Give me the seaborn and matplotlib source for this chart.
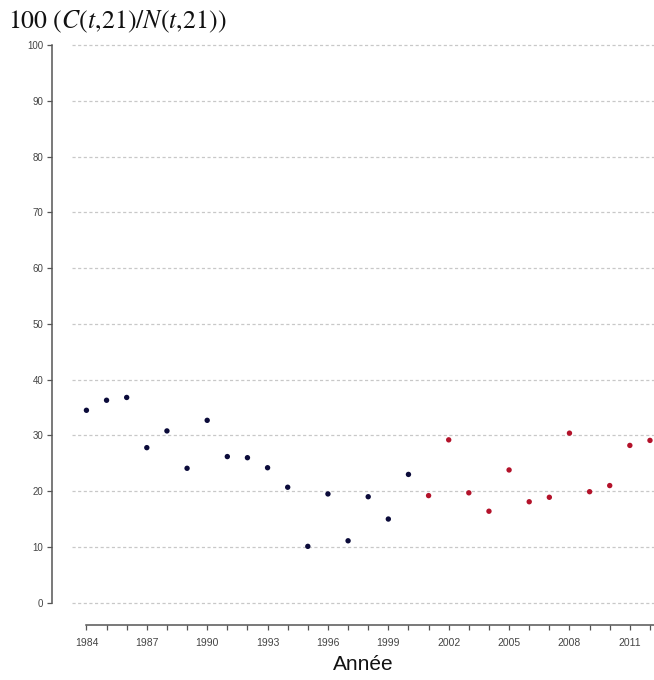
import pandas as pd
import matplotlib
matplotlib.use("Agg")
import matplotlib.pyplot as plt
import seaborn as sns

# données
annees = list(range(1984, 2013))
valeurs = [34.5, 36.3, 36.8, 27.8, 30.8, 24.1, 32.7, 26.2, 26.0, 24.2,
           20.7, 10.1, 19.5, 11.1, 19.0, 15.0, 23.0, 19.2, 29.2, 19.7,
           16.4, 23.8, 18.1, 18.9, 30.4, 19.9, 21.0, 28.2, 29.1]
periode = ["avant"] * 17 + ["apres"] * 12
couleurs = {"avant": "#0b0b3a", "apres": "#b3122a"}

df = pd.DataFrame({"annee": annees, "valeur": valeurs, "periode": periode})

sns.set_theme(style="white")
plt.rcParams["font.family"] = ["Liberation Sans", "DejaVu Sans"]
plt.rcParams["mathtext.fontset"] = "stix"

fig = plt.figure(figsize=(6.54, 6.8), dpi=100)
ax = fig.add_axes([0.11, 0.0809, 0.89, 0.8857])

# lignes horizontales pointillées
for y in range(0, 101, 10):
    ax.axhline(y, color="#c8c8c8", lw=0.9, ls=(0, (2.5, 2)), zorder=0)

sns.scatterplot(data=df, x="annee", y="valeur", hue="periode",
                palette=couleurs, s=15, edgecolor="none", legend=False,
                ax=ax, clip_on=False)

ax.set_xlim(1983.28, 2012.2)
ax.set_ylim(-4, 104)

ax.spines["top"].set_visible(False)
ax.spines["right"].set_visible(False)
ax.spines["left"].set_position(("outward", 14))
ax.spines["left"].set_bounds(0, 100)
ax.spines["bottom"].set_bounds(1984, 2013)
for s in ("left", "bottom"):
    ax.spines[s].set_color("#555555")
    ax.spines[s].set_linewidth(1.1)

ax.set_yticks(range(0, 101, 10))
ax.set_xticks(range(1984, 2013, 3))
ax.set_xticks(range(1984, 2013), minor=True)
ax.tick_params(axis="both", which="both", direction="out", length=3.5,
               width=0.9, color="#555555", bottom=True, left=True)
ax.tick_params(axis="x", labelsize=7.5, labelcolor="#444444", pad=6)
ax.tick_params(axis="y", labelsize=7, labelcolor="#444444", pad=3)

ax.set_xlabel("Année", fontsize=15, labelpad=5, color="#111111")
ax.set_ylabel("")
ax.grid(False)

fig.text(0.012, 0.958, r"$100\ (C(t,\!21)/N(t,\!21))$", fontsize=18.5,
         ha="left", va="baseline", color="#111111")

fig.savefig("out.png", dpi=100)
